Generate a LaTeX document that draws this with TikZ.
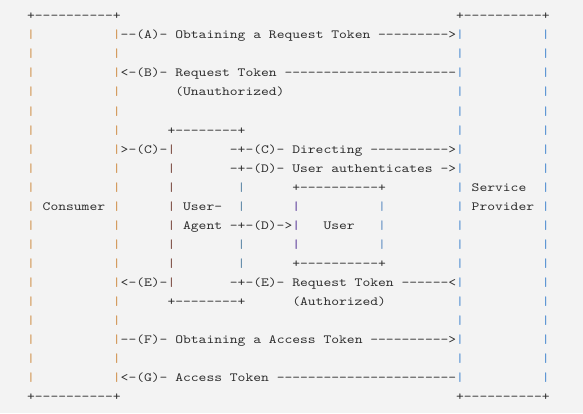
\documentclass[tikz,border=0pt]{standalone}
\usepackage{fontspec}
\setmonofont{lmmono10-regular.otf}[FakeStretch=1.189]
\definecolor{bg}{HTML}{F3F3F3}
\definecolor{ink}{HTML}{2E2E2E}
\definecolor{cons}{HTML}{D0904A}
\definecolor{prov}{HTML}{4A8AD0}
\definecolor{uaL}{HTML}{7A4A40}
\definecolor{uaR}{HTML}{5A85A5}
\definecolor{usL}{HTML}{5A3A9A}
\definecolor{usR}{HTML}{5A8AC0}
\tikzset{txt/.style={anchor=base west,inner sep=0pt,outer sep=0pt,text=ink,font=\ttfamily\fontsize{12.5}{15}\selectfont}}
\newcommand\at[4][ink]{\node[txt,text=#1] (r#3c#2) at ({27.1+7.8*#2},{393-19*#3}) {#4};}
\begin{document}
\begin{tikzpicture}[x=1pt,y=1pt]
\fill[bg] (0,0) rectangle (583,413);
\useasboundingbox (0,0) rectangle (583,413);
% outer boxes
\at{0}{0}{+----------+}
\at{55}{0}{+----------+}
\at{0}{20}{+----------+}
\at{55}{20}{+----------+}
\foreach \r in {1,...,19}{
  \at[cons]{0}{\r}{|}
  \at[cons]{11}{\r}{|}
  \at[prov]{55}{\r}{|}
  \at[prov]{66}{\r}{|}
}
% messages
\at{12}{1}{--(A)- Obtaining a Request Token --------->}
\at{12}{3}{<-(B)- Request Token ----------------------}
\at{19}{4}{(Unauthorized)}
% user agent box
\at{18}{6}{+--------+}
\foreach \r in {7,...,14}{\at[uaL]{18}{\r}{|}}
\foreach \r in {9,10,12,13}{\at[uaR]{27}{\r}{|}}
\at{18}{15}{+--------+}
\at{12}{7}{>-(C)-}
\at{26}{7}{-+-(C)- Directing ---------->}
\at{26}{8}{-+-(D)- User authenticates ->}
\at{20}{10}{User-}
\at{20}{11}{Agent -+-(D)->}
\at{12}{14}{<-(E)-}
\at{26}{14}{-+-(E)- Request Token ------<}
\at{34}{15}{(Authorized)}
% user box
\at{34}{9}{+----------+}
\foreach \r in {10,11,12}{\at[usL]{34}{\r}{|}\at[usR]{45}{\r}{|}}
\at{34}{13}{+----------+}
\at{38}{11}{User}
% labels
\at{2}{10}{Consumer}
\at{57}{9}{Service}
\at{57}{10}{Provider}
% access token
\at{12}{17}{--(F)- Obtaining a Access Token ---------->}
\at{12}{19}{<-(G)- Access Token -----------------------}
\end{tikzpicture}
\end{document}
